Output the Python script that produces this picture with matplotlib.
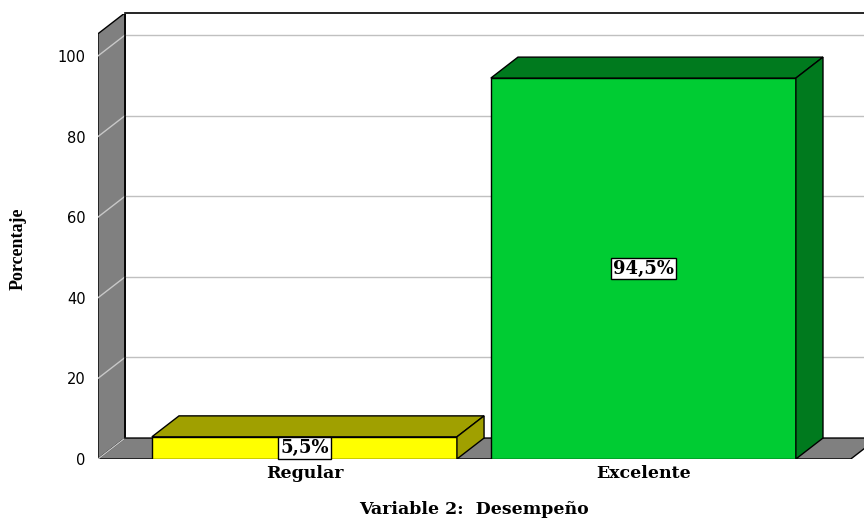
import matplotlib
matplotlib.use("Agg")
import matplotlib.pyplot as plt
from matplotlib.patches import Polygon

categories = ["Regular", "Excelente"]
values = [5.5, 94.5]
labels = ["5,5%", "94,5%"]
front_colors = ["#ffff00", "#00cc33"]
shade_colors = ["#a0a000", "#007a1e"]
yticks = [0, 20, 40, 60, 80, 100]

# pseudo 3D depth (data units)
dx, dy = 0.08, 5.2
w = 0.9
wall_top = 105.5

fig = plt.figure(figsize=(8.64, 5.18), dpi=100)
ax = fig.add_axes([98 / 864, 59 / 518, 766 / 864, 445 / 518])
ax.set_xlim(-0.609, 1.651)
ax.set_ylim(0, 110.4)
for s in ax.spines.values():
    s.set_visible(False)

x0, x1 = ax.get_xlim()
floor_r = 1.612

# back wall top line and back edge
ax.plot([x0 + dx, x1 + 1], [wall_top + dy] * 2, color="black", lw=1.2, zorder=1, clip_on=False)
ax.plot([x0 + dx, x0 + dx], [dy, wall_top + dy], color="black", lw=1.2, zorder=3)

# gridlines on back wall and left wall
for t in yticks[1:]:
    ax.plot([x0 + dx, x1 + 1], [t + dy] * 2, color="#c0c0c0", lw=1, zorder=1)

# left wall
ax.add_patch(Polygon([(x0, 0), (x0 + dx, dy), (x0 + dx, wall_top + dy), (x0, wall_top)],
                     closed=True, facecolor="#808080", edgecolor="black", lw=1, zorder=2))
for t in yticks:
    ax.plot([x0, x0 + dx], [t, t + dy], color="#c8c8c8", lw=1, zorder=2.5)

# floor
ax.add_patch(Polygon([(x0, 0), (floor_r, 0), (floor_r + dx, dy), (x0 + dx, dy)],
                     closed=True, facecolor="#808080", edgecolor="black", lw=1, zorder=2))

# bars
xs = list(range(len(categories)))
ax.bar(xs, values, width=w, color=front_colors, edgecolor="black", lw=1, zorder=5)
for x, v, c in zip(xs, values, shade_colors):
    l, r = x - w / 2, x + w / 2
    ax.add_patch(Polygon([(l, v), (r, v), (r + dx, v + dy), (l + dx, v + dy)],
                         closed=True, facecolor=c, edgecolor="black", lw=1, zorder=5))
    ax.add_patch(Polygon([(r, 0), (r + dx, dy), (r + dx, v + dy), (r, v)],
                         closed=True, facecolor=c, edgecolor="black", lw=1, zorder=5))

for x, v, lab in zip(xs, values, labels):
    ax.text(x, v / 2, lab, ha="center", va="center", fontsize=13, fontweight="bold",
            family="DejaVu Serif", zorder=6,
            bbox=dict(boxstyle="square,pad=0.1", facecolor="white", edgecolor="black", lw=1))

ax.set_yticks(yticks)
ax.set_yticklabels([str(t) for t in yticks], fontsize=10.5, family="DejaVu Sans")
ax.tick_params(axis="y", length=0, pad=9)
ax.set_xticks(xs)
ax.set_xticklabels(categories, fontsize=12.5, fontweight="bold", family="DejaVu Serif")
ax.tick_params(axis="x", length=0, pad=4)

fig.text(474 / 864, 1 - 509 / 518, "Variable 2:  Desempeño", ha="center", va="center",
         fontsize=12.5, fontweight="bold", family="DejaVu Serif")
fig.text(18 / 864, 1 - 249 / 518, "Porcentaje", ha="center", va="center", rotation=90,
         fontsize=13, fontweight="bold", family="Liberation Serif")

fig.savefig("out.png", dpi=100)
